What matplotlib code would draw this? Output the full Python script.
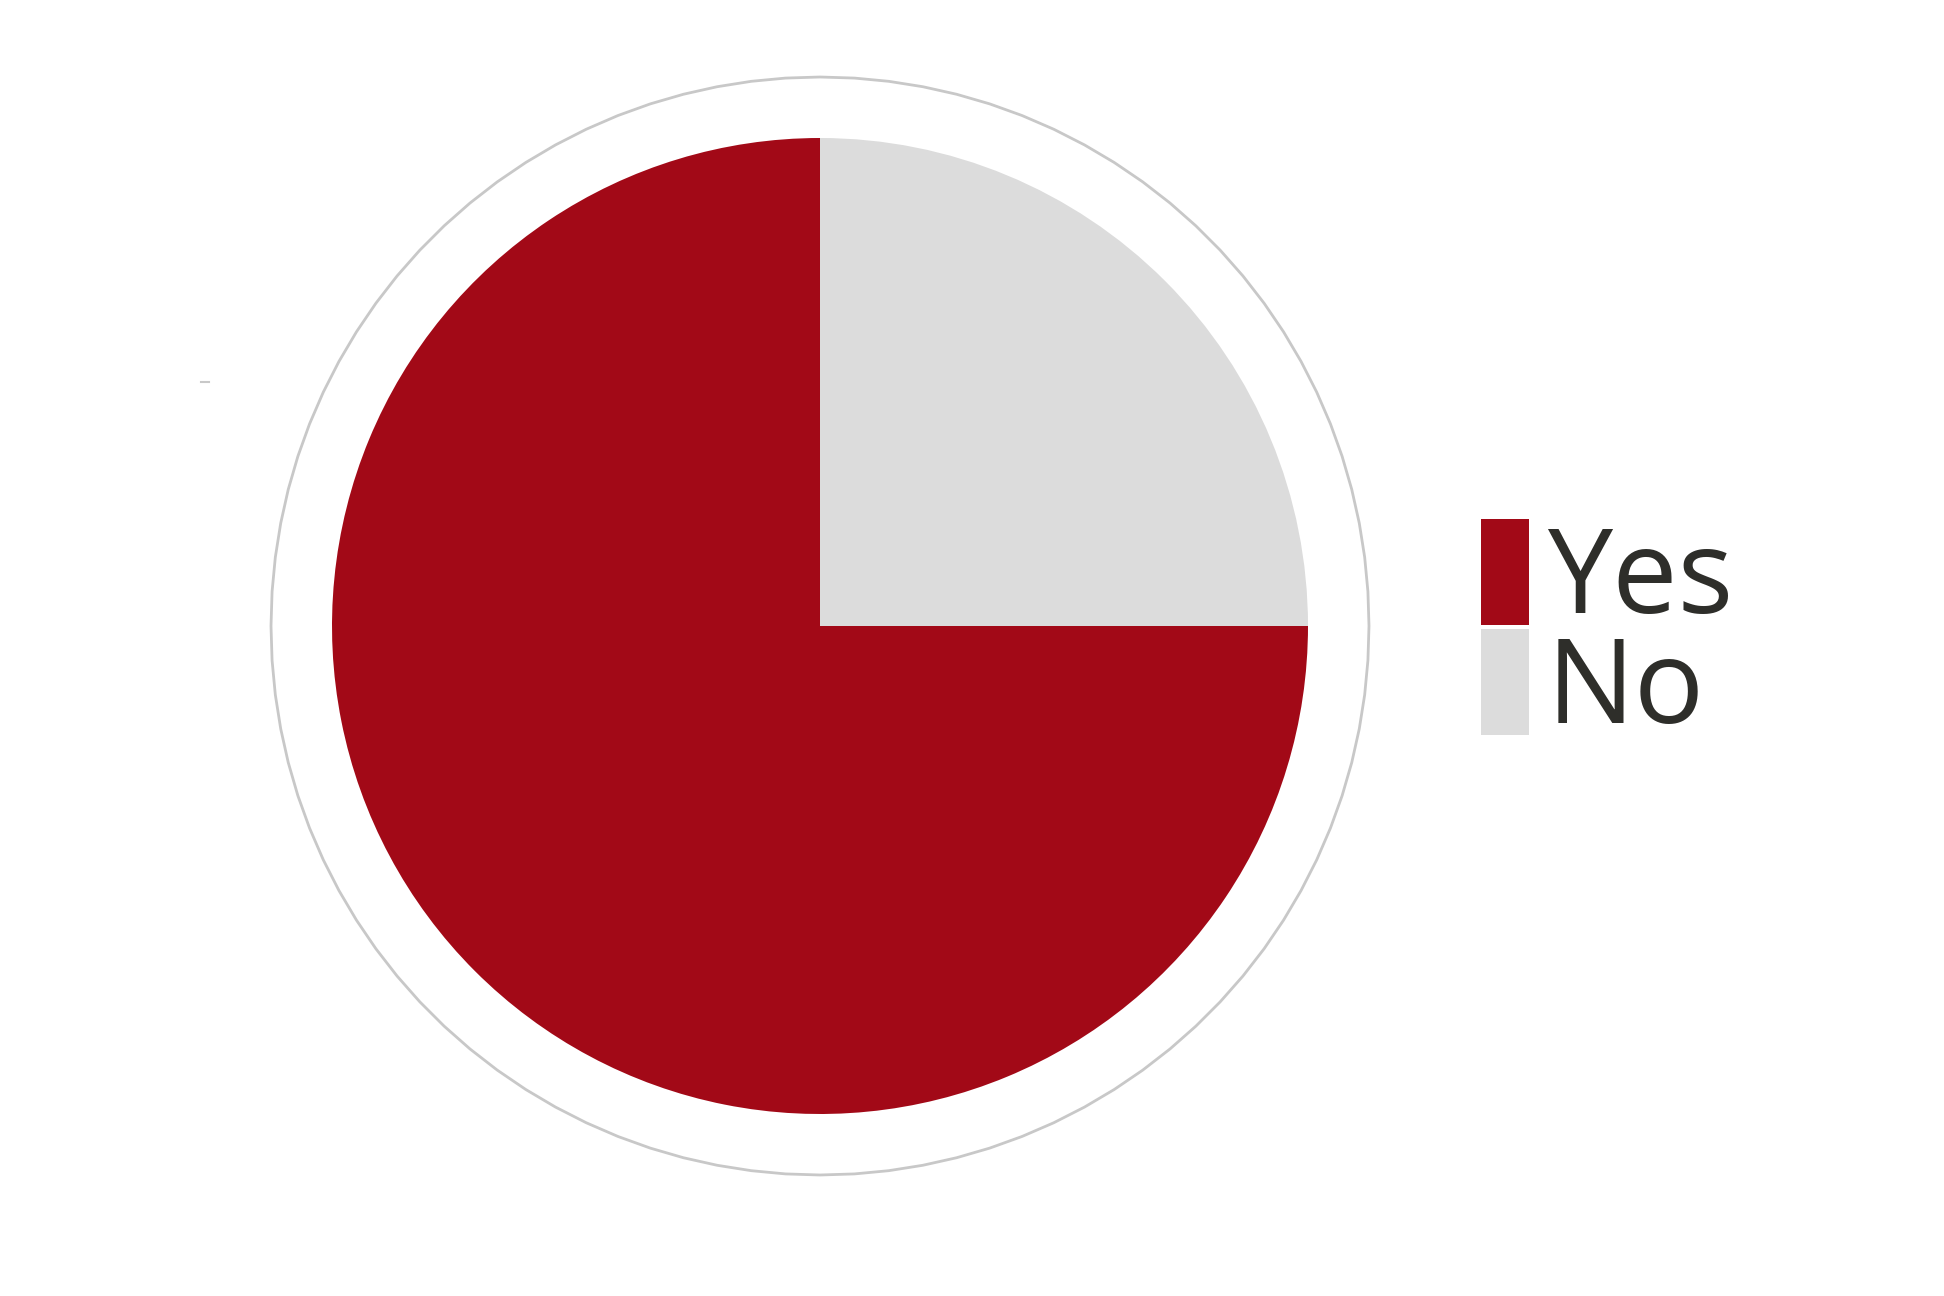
import matplotlib
matplotlib.use("Agg")
import matplotlib.pyplot as plt
from matplotlib.patches import CirclePolygon, Rectangle

labels = ["Yes", "No"]
values = [75, 25]
colors = ["#A20917", "#DCDCDC"]

W, H = 1944, 1296
fig = plt.figure(figsize=(W / 100, H / 100), dpi=100)
ax = fig.add_axes([0, 0, 1, 1])

cx, cy = 820, H - 626
ax.pie(values, colors=colors, startangle=90, radius=488, center=(cx, cy),
       wedgeprops=dict(linewidth=0), frame=True)
ax.set_xlim(0, W)
ax.set_ylim(0, H)
ax.set_aspect("equal")
ax.axis("off")

ring = CirclePolygon((cx, cy), radius=549, resolution=100, fill=False,
                     edgecolor="#C8C8C8", linewidth=2.0)
ax.add_patch(ring)

# small stray mark
ax.plot([201, 209], [H - 382, H - 382], color="#C8C8C8", linewidth=1.5)

# legend
top = H - 519
h = 106
gap = 4
for i, (lab, col) in enumerate(zip(labels, colors)):
    y0 = top - h - i * (h + gap)
    ax.add_patch(Rectangle((1481, y0), 48, h, facecolor=col, edgecolor="none"))
    ax.text(1547, y0 + 12, lab, fontsize=84, family="Open Sans",
            color="#2E2E2A", va="baseline", ha="left")

fig.savefig("out.png", dpi=100)
